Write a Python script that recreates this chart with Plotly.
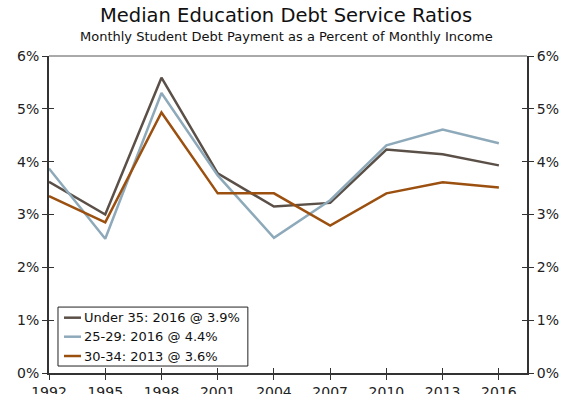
import plotly.graph_objects as go

years = [1992, 1995, 1998, 2001, 2004, 2007, 2010, 2013, 2016]
under_35 = [3.62, 3.00, 5.59, 3.78, 3.15, 3.22, 4.23, 4.14, 3.93]
age_25_29 = [3.87, 2.54, 5.30, 3.74, 2.56, 3.27, 4.31, 4.61, 4.35]
age_30_34 = [3.35, 2.85, 4.93, 3.40, 3.40, 2.79, 3.40, 3.61, 3.51]

series_names = ["Under 35: 2016 @ 3.9%", "25-29: 2016 @ 4.4%", "30-34: 2013 @ 3.6%"]
series_values = [under_35, age_25_29, age_30_34]
series_colors = ["#5b5048", "#8eaaba", "#9b5010"]

y_ticks = [0, 1, 2, 3, 4, 5, 6]
y_tick_text = [f"{v}%" for v in y_ticks]

FONT = "DejaVu Sans, Verdana, sans-serif"
AXIS_COLOR = "#333333"

fig = go.Figure()
for name, vals, col in zip(series_names, series_values, series_colors):
    fig.add_trace(go.Scatter(x=years, y=vals, mode="lines", name=name,
                             line=dict(color=col, width=2.5), showlegend=False))

x_range = [1992, 2017.5]
y_range = [0, 6]

common_x = dict(range=x_range, tickvals=years, showgrid=False, zeroline=False,
                tickcolor=AXIS_COLOR, ticklen=5, tickwidth=1, automargin=False)
common_y = dict(range=y_range, tickvals=y_ticks, ticktext=y_tick_text,
                showgrid=False, zeroline=False, tickcolor=AXIS_COLOR,
                ticklen=5, tickwidth=1, automargin=False)

# Compact boxed legend in the lower-left corner of the plot area
legend_box = dict(type="rect", xref="paper", yref="paper",
                  x0=0.0188, x1=0.416, y0=0.022, y1=0.208,
                  line=dict(color="#222222", width=1), fillcolor="white")
shapes = [legend_box]
annotations = []
row_y = [0.1745, 0.1145, 0.0536]
for name, col, ry in zip(series_names, series_colors, row_y):
    shapes.append(dict(type="line", xref="paper", yref="paper",
                       x0=0.0314, x1=0.0669, y0=ry, y1=ry,
                       line=dict(color=col, width=2.5)))
    annotations.append(dict(text=name, xref="paper", yref="paper", x=0.0690, y=ry,
                            xanchor="left", yanchor="middle", showarrow=False,
                            font=dict(size=13, color="#111111")))

# thin top border of the frame
shapes.append(dict(type="line", xref="paper", yref="paper", x0=0, x1=1, y0=1, y1=1,
                   line=dict(color="#555555", width=1)))

annotations += [
    dict(text="Median Education Debt Service Ratios", xref="paper", yref="paper",
         x=0.496, y=1, xanchor="center", yanchor="bottom", yshift=27,
         showarrow=False, font=dict(size=19.5, color="#111111")),
    dict(text="Monthly Student Debt Payment as a Percent of Monthly Income",
         xref="paper", yref="paper", x=0.496, y=1, xanchor="center",
         yanchor="bottom", yshift=10, showarrow=False,
         font=dict(size=13, color="#111111")),
]

fig.update_layout(
    width=561, height=394,
    margin=dict(l=49, r=34, t=56, b=21),
    paper_bgcolor="white", plot_bgcolor="white",
    font=dict(family=FONT, size=14, color="#222222"),
    showlegend=False,
    xaxis=dict(**common_x, ticks="outside", showline=True, linecolor=AXIS_COLOR,
               linewidth=2, tickfont=dict(size=14)),
    xaxis2=dict(**common_x, overlaying="x", side="bottom", ticks="inside",
                showticklabels=False, showline=False),
    yaxis=dict(**common_y, ticks="outside", showline=True, linecolor=AXIS_COLOR,
               linewidth=2, side="left"),
    yaxis2=dict(**common_y, ticks="outside", showline=True, linecolor=AXIS_COLOR,
                linewidth=2, side="right", overlaying="y"),
    yaxis3=dict(**common_y, ticks="inside", showticklabels=False, showline=False,
                side="left", overlaying="y"),
    yaxis4=dict(**common_y, ticks="inside", showticklabels=False, showline=False,
                side="right", overlaying="y"),
    shapes=shapes,
    annotations=annotations,
)

# Invisible helper traces so the overlaid tick axes are rendered
for xa, ya in [("x2", "y"), ("x", "y2"), ("x", "y3"), ("x", "y4")]:
    fig.add_trace(go.Scatter(x=[years[0]], y=[0], xaxis=xa, yaxis=ya, mode="markers",
                             marker=dict(opacity=0), showlegend=False, hoverinfo="skip"))

fig.write_html("out.html")
